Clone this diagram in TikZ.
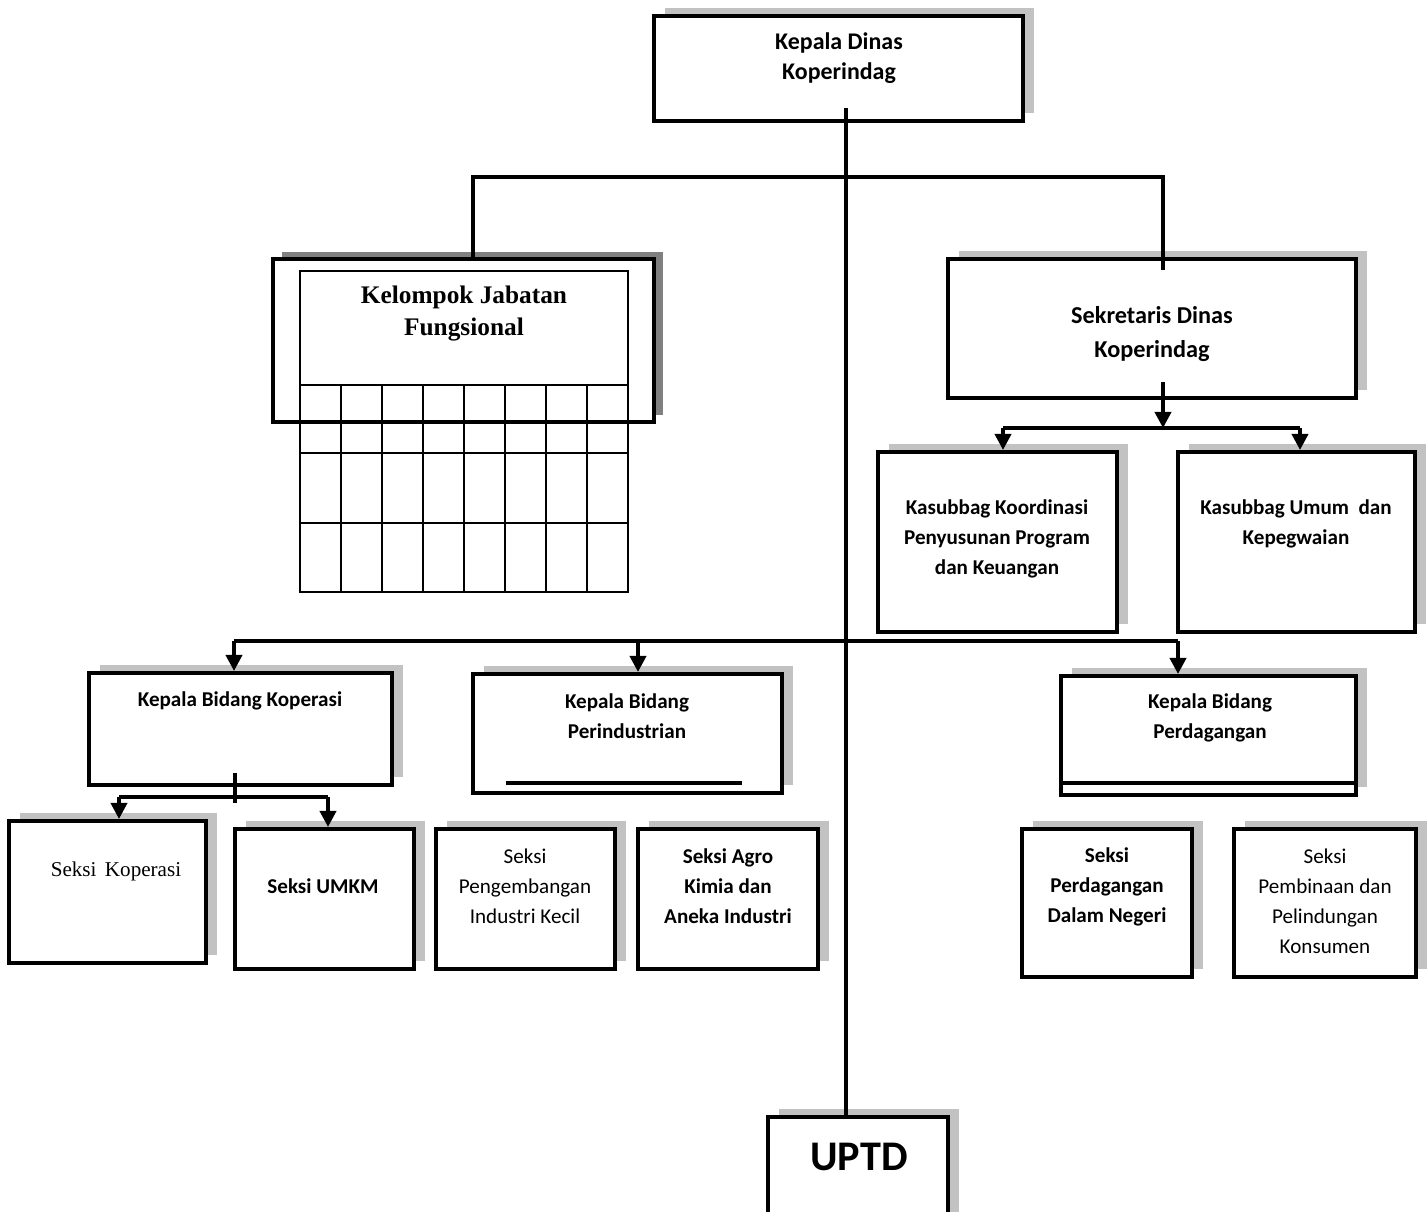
\documentclass[tikz,border=0pt]{standalone}
\usepackage{fontspec}
\setmainfont{Carlito}
\newfontfamily\antiqua{Liberation Serif}
\usetikzlibrary{arrows.meta, shadows, fit, calc}

\begin{document}
\begin{tikzpicture}[x=0.01cm, y=-0.01cm,
		box/.style={draw, line width=1.15pt, fill=white, inner sep=0pt,
			drop shadow={shadow xshift=0.11cm, shadow yshift=0.08cm, opacity=1, fill=black!24}},
		darkbox/.style={draw, line width=1.3pt, fill=white, inner sep=0pt,
			drop shadow={shadow xshift=0.09cm, shadow yshift=0.07cm, opacity=1, fill=black!50}},
		txt/.style={align=center, inner sep=0pt, font=\fontsize{6}{8.5}\selectfont\bfseries},
		thin/.style={align=center, inner sep=0pt, font=\fontsize{6}{8.5}\selectfont},
		conn/.style={line width=1.05pt},
		tbl/.style={line width=0.6pt},
		>={Triangle[length=1.6mm, width=1.6mm]}]
	% Bildbereich
	\clip (0,0) rectangle (1427,1212);
	% Kaesten
	\node[box, fit={(654,16) (1023,121)}] (kd) {};
	\node[darkbox, fit={(273,259) (654,422)}] (kjf) {};
	\node[box, fit={(948,259) (1356,398)}] (sek) {};
	\node[box, fit={(878,452) (1117,632)}] (kkp) {};
	\node[box, fit={(1178,452) (1415,632)}] (kuk) {};
	\node[box, fit={(89,673) (392,785)}] (kbk) {};
	\node[box, fit={(473,674) (782,793)}] (kbp) {};
	\node[box, fit={(1061,676) (1356,795)}] (kbd) {};
	\node[box, fit={(9,821) (206,963)}] (sk) {};
	\node[box, fit={(235,829) (414,969)}] (su) {};
	\node[box, fit={(436,829) (615,969)}] (spik) {};
	\node[box, fit={(638,829) (818,969)}] (sak) {};
	\node[box, fit={(1022,829) (1192,977)}] (spdn) {};
	\node[box, fit={(1234,829) (1416,977)}] (sppk) {};
	\node[box, fit={(768,1117) (948,1240)}] (uptd) {};
	% Tabelle Jabatan Fungsional
	\draw[tbl] (300,271) rectangle (628,592);
	\foreach \y in {385,453,523} \draw[tbl] (300,\y) -- (628,\y);
	\foreach \x in {1,...,7} \draw[tbl] (300+41*\x,385) -- (300+41*\x,592);
	% Linien in den Bidang-Kaesten
	\draw[conn] (506,783) -- (742,783);
	\draw[conn] (kbd.west |- 0,783) -- (1358,783);
	% Beschriftung
	\node[txt, font=\fontsize{6.8}{8.4}\selectfont\bfseries] (kd-t) at (839,58) {Kepala Dinas\\Koperindag};
	\node[align=center, inner sep=0pt, font=\antiqua\fontsize{7.2}{9.1}\selectfont\bfseries] (kjf-t) at (464,314) {Kelompok Jabatan\\Fungsional};
	\node[txt, font=\fontsize{6.9}{9.7}\selectfont\bfseries] (sek-t) at (1152,334) {Sekretaris Dinas\\Koperindag};
	\node[txt] (kkp-t) at (997,539) {Kasubbag Koordinasi\\Penyusunan Program\\dan Keuangan};
	\node[txt] (kuk-t) at (1296,524) {Kasubbag Umum~ dan\\Kepegwaian};
	\node[txt] (kbk-t) at (240,701) {Kepala Bidang Koperasi};
	\node[txt] (kbp-t) at (627,716) {Kepala Bidang\\Perindustrian};
	\node[txt] (kbd-t) at (1210,718) {Kepala Bidang\\Perdagangan};
	\node[inner sep=0pt, font=\antiqua\fontsize{6}{8}\selectfont] (sk-t) at (116,871) {Seksi\hspace{0.4em}Koperasi};
	\node[txt] (su-t) at (323,886) {Seksi UMKM};
	\node[thin] (spik-t) at (525,886) {Seksi\\Pengembangan\\Industri Kecil};
	\node[txt] (sak-t) at (728,886) {Seksi Agro\\Kimia dan\\Aneka Industri};
	\node[txt] (spdn-t) at (1107,887) {Seksi\\Perdagangan\\Dalam Negeri};
	\node[thin] (sppk-t) at (1325,901) {Seksi\\Pembinaan dan\\Pelindungan\\Konsumen};
	\node[txt, font=\fontsize{12}{14}\selectfont\bfseries] (uptd-t) at (859,1157) {UPTD};
	% Verbindungen
	\coordinate (kd-out) at (846,108);
	\coordinate (jl) at (473,177);
	\coordinate (jr) at (1163,177);
	\draw[conn] (kd-out) -- (kd-out |- uptd.north);
	\draw[conn] (kjf.north -| jl) -- (jl) -- (jr) -- ++(0,93);
	% Sekretariat
	\coordinate (sek-out) at (1163,382);
	\coordinate (sbar) at (1163,428);
	\coordinate (s1) at (1003,428);
	\coordinate (s2) at (1300,428);
	\draw[conn, ->] (sek-out) -- (sbar);
	\draw[conn] (s1) -- (s2);
	\draw[conn, ->] (s1) -- (s1 |- kkp.north);
	\draw[conn, ->] (s2) -- (s2 |- kuk.north);
	% Bidang
	\coordinate (m1) at (234,641);
	\coordinate (m2) at (638,641);
	\coordinate (m3) at (1178,641);
	\draw[conn] (m1) -- (m3);
	\foreach \m/\n in {m1/kbk, m2/kbp, m3/kbd}
		\draw[conn, ->] (\m) -- (\m |- \n.north);
	% Seksi Koperasi
	\coordinate (k0) at (235,773);
	\coordinate (k1) at (119,797);
	\coordinate (k2) at (328,797);
	\draw[conn] (k0) -- ++(0,30);
	\draw[conn] (k1) -- (k2);
	\draw[conn, ->] (k1) -- (k1 |- sk.north);
	\draw[conn, ->] (k2) -- (k2 |- su.north);
\end{tikzpicture}
\end{document}
